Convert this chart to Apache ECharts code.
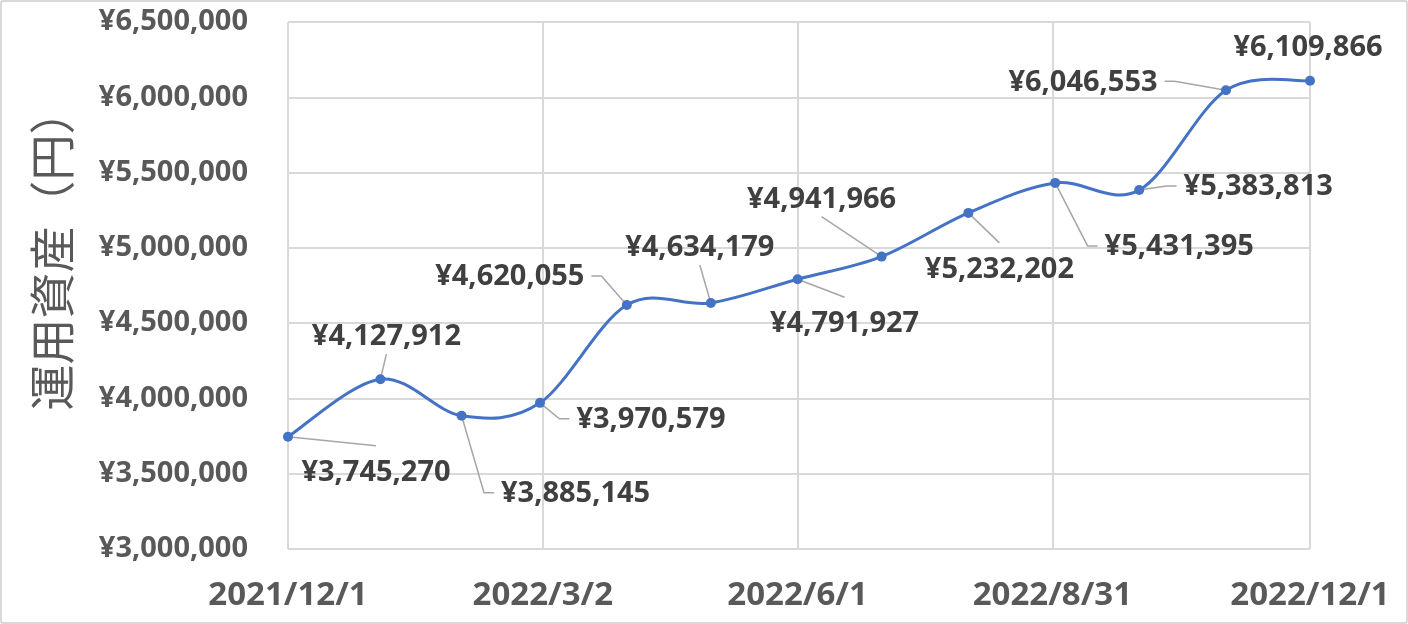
<!DOCTYPE html>
<html>
<head>
<meta charset="utf-8">
<script src="https://cdn.jsdelivr.net/npm/echarts@6/dist/echarts.min.js"></script>
<style>
  html, body { margin: 0; padding: 0; background: #fff; }
  #chart { width: 1408px; height: 624px; }
</style>
</head>
<body>
<div id="chart"></div>
<script>
// データ（月次の運用資産）
const dates = ['2021/12/1', '2022/1/3', '2022/2/1', '2022/3/1', '2022/4/1', '2022/5/1', '2022/6/1',
               '2022/7/1', '2022/8/1', '2022/9/1', '2022/10/1', '2022/11/1', '2022/12/1'];
const assets = [3745270, 4127912, 3885145, 3970579, 4620055, 4634179, 4791927,
                4941966, 5232202, 5431395, 5383813, 6046553, 6109866];
const xTickDates = ['2021/12/1', '2022/3/2', '2022/6/1', '2022/8/31', '2022/12/1'];
const yMin = 3000000;
const yMax = 6500000;
const yStep = 500000;

// ラベルの位置（点からのずれ）
const labelOffsets = [[88, 36], [6, -42], [114, 78], [111, 17], [-117, -28], [-11, -55], [47, 45],
                      [-60, -57], [31, 57], [124, 64], [119, -3], [-143, -8], [-2, -33]];

const DAY = 86400000;
function toUTC(s) {
    const p = s.split('/').map(Number);
    return Date.UTC(p[0], p[1] - 1, p[2]);
}
const base = toUTC(xTickDates[0]);
function dayOf(s) { return Math.round((toUTC(s) - base) / DAY); }
function dayLabel(v) {
    const d = new Date(base + Math.round(v) * DAY);
    return d.getUTCFullYear() + '/' + (d.getUTCMonth() + 1) + '/' + d.getUTCDate();
}
function yen(v) { return '¥' + Number(v).toLocaleString('en-US'); }

const xDays = dates.map(dayOf);
const tickDays = xTickDates.map(dayOf);
const n = dates.length;
const points = xDays.map((x, i) => [x, assets[i]]);

const textFont = '"Open Sans", "Noto Sans", sans-serif';
const labelSize = 29;
const lineColor = '#4472c4';

// ラベル幅の計測
const measureCtx = document.createElement('canvas').getContext('2d');
measureCtx.font = 'bold ' + labelSize + 'px "Open Sans"';

// Excel風のスムージング（Catmull-Rom → ベジェ）
function renderSegment(params, api) {
    const i = params.dataIndex;
    if (i >= n - 1) return null;
    const P = k => {
        const j = Math.max(0, Math.min(n - 1, k));
        return api.coord([xDays[j], assets[j]]);
    };
    const p0 = P(i - 1), p1 = P(i), p2 = P(i + 1), p3 = P(i + 2);
    return {
        type: 'bezierCurve',
        shape: {
            x1: p1[0], y1: p1[1],
            x2: p2[0], y2: p2[1],
            cpx1: p1[0] + (p2[0] - p0[0]) / 6,
            cpy1: p1[1] + (p2[1] - p0[1]) / 6,
            cpx2: p2[0] - (p3[0] - p1[0]) / 6,
            cpy2: p2[1] - (p3[1] - p1[1]) / 6
        },
        style: { stroke: lineColor, lineWidth: 3, fill: null, lineCap: 'round' }
    };
}

// 引き出し線（Excelのようにラベルの辺の中央へ）
function renderLeader(params, api) {
    const i = params.dataIndex;
    if (i >= n - 1) return null;
    const p = api.coord([xDays[i], assets[i]]);
    const off = labelOffsets[i];
    const cx = p[0] + off[0];
    const cy = p[1] + off[1];
    const halfW = measureCtx.measureText(yen(assets[i])).width / 2;
    let pts;
    if (Math.abs(off[0]) - halfW > 25) {
        const s = off[0] > 0 ? -1 : 1;
        const endX = cx + s * (halfW + 7);
        const ey = cy - 1;
        pts = [p, [endX + s * 10, ey], [endX, ey]];
    } else {
        const ey = off[1] > 0 ? cy - 27 : cy + 17;
        pts = [p, [cx, ey]];
    }
    return {
        type: 'polyline',
        shape: { points: pts },
        style: { stroke: '#a6a6a6', lineWidth: 1.5, fill: null }
    };
}

function placeLabel(params) {
    const off = labelOffsets[params.dataIndex];
    const r = params.rect;
    return {
        x: r.x + r.width / 2 + off[0],
        y: r.y + r.height / 2 + off[1],
        align: 'center',
        verticalAlign: 'middle'
    };
}

var myChart = echarts.init(document.getElementById('chart'));
myChart.setOption({
    backgroundColor: '#ffffff',
    animation: false,
    graphic: [{
        type: 'rect',
        shape: { x: 1, y: 1, width: 1406, height: 622, r: 2 },
        style: { fill: 'none', stroke: '#d9d9d9', lineWidth: 2 },
        silent: true
    }],
    grid: { left: 288, right: 98, top: 22, bottom: 75 },
    xAxis: {
        type: 'value',
        min: 0,
        max: tickDays[tickDays.length - 1],
        axisLine: { show: false },
        axisTick: { show: false, customValues: tickDays },
        splitLine: { show: true, lineStyle: { color: '#d9d9d9', width: 2 } },
        axisLabel: {
            customValues: tickDays,
            formatter: dayLabel,
            margin: 30,
            fontFamily: textFont,
            fontWeight: 'bold',
            fontSize: 33,
            color: '#595959'
        }
    },
    yAxis: {
        type: 'value',
        min: yMin,
        max: yMax,
        interval: yStep,
        name: '運用資産（円）',
        nameLocation: 'middle',
        nameGap: 213,
        nameTextStyle: {
            fontFamily: '"Noto Sans CJK JP", sans-serif',
            fontSize: 46,
            color: '#595959',
            padding: [0, 0, 0, 72]
        },
        axisLine: { show: false },
        axisTick: { show: false },
        splitLine: { lineStyle: { color: '#d9d9d9', width: 2 } },
        axisLabel: {
            formatter: yen,
            margin: 40,
            fontFamily: textFont,
            fontWeight: 'bold',
            fontSize: 29,
            color: '#595959'
        }
    },
    series: [{
        name: '運用資産（線）',
        type: 'custom',
        renderItem: renderSegment,
        data: points,
        encode: { x: 0, y: 1 },
        z: 1,
        silent: true
    }, {
        name: '引き出し線',
        type: 'custom',
        renderItem: renderLeader,
        data: points,
        encode: { x: 0, y: 1 },
        z: 2,
        silent: true
    }, {
        name: '運用資産',
        type: 'line',
        data: points,
        z: 3,
        symbol: 'circle',
        symbolSize: 10,
        lineStyle: { opacity: 0 },
        itemStyle: { color: lineColor },
        label: {
            show: true,
            position: 'inside',
            formatter: p => yen(p.value[1]),
            fontFamily: textFont,
            fontWeight: 'bold',
            fontSize: labelSize,
            color: '#404040'
        },
        labelLayout: placeLabel
    }]
});
</script>
</body>
</html>
